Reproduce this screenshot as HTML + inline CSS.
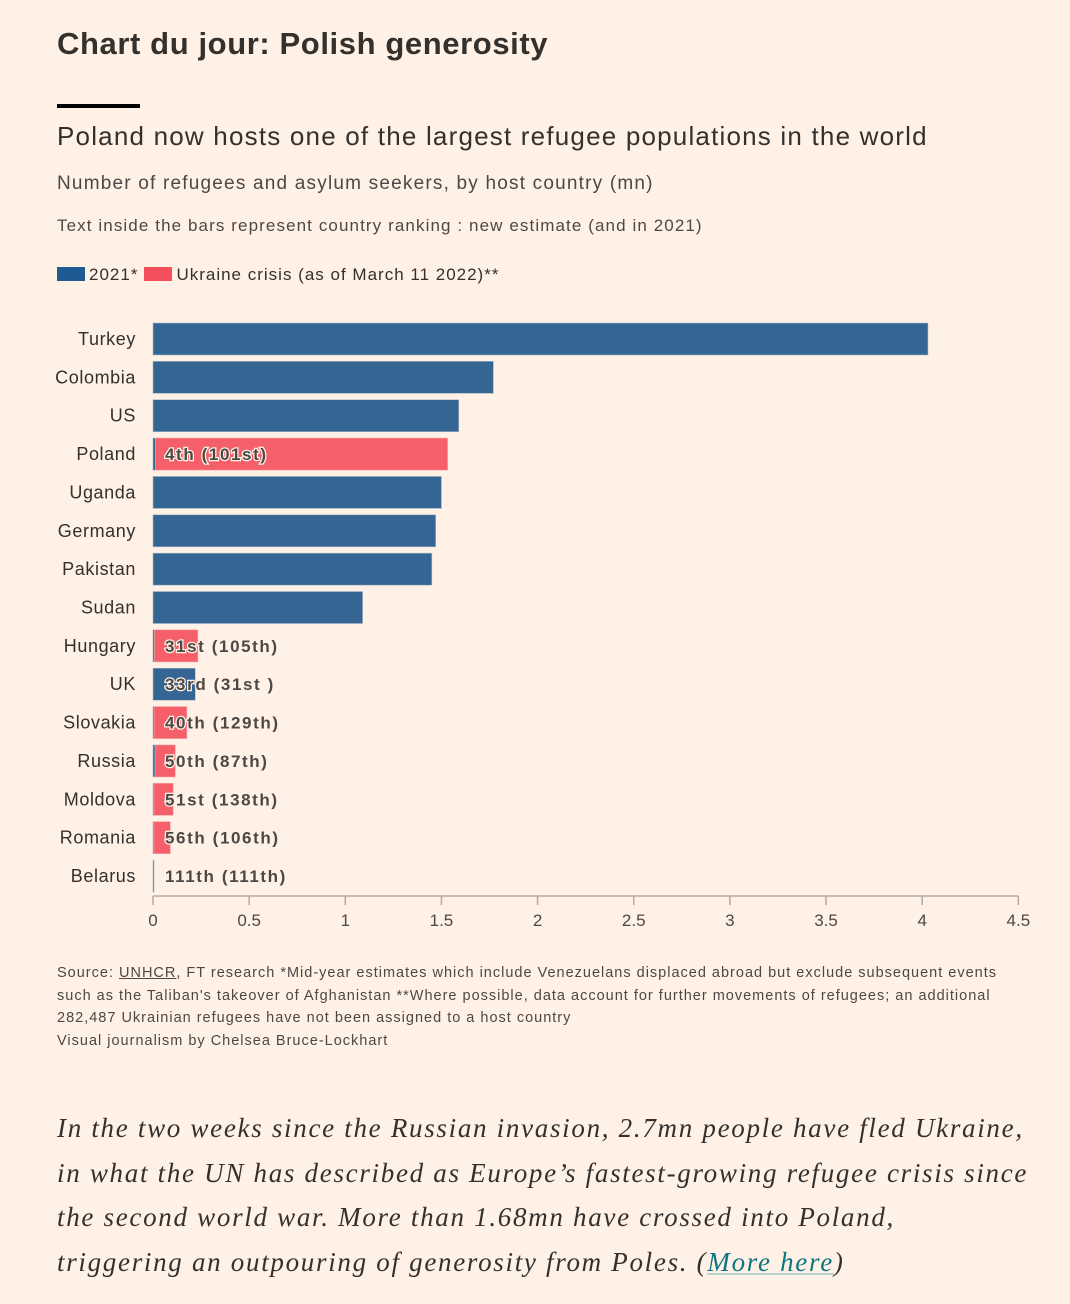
<!DOCTYPE html>
<html><head><meta charset="utf-8">
<style>
body{margin:0;background:#fff1e5;width:1070px;height:1304px;position:relative;overflow:hidden;font-family:"Liberation Sans",sans-serif;color:#33302e}
.t{position:absolute;white-space:nowrap}
</style></head><body>
<div class="t" style="left:57px;top:26px;font-size:31px;font-weight:bold;color:#33302e;letter-spacing:0.6px">Chart du jour: Polish generosity</div>
<div style="position:absolute;left:57px;top:104px;width:83px;height:4px;background:#000"></div>
<div class="t" style="left:57px;top:121px;font-size:26px;letter-spacing:1.2px">Poland now hosts one of the largest refugee populations in the world</div>
<div class="t" style="left:57px;top:173px;font-size:19px;color:#4d4845;letter-spacing:1.2px">Number of refugees and asylum seekers, by host country (mn)</div>
<div class="t" style="left:57px;top:216px;font-size:17px;color:#4d4845;letter-spacing:1.1px">Text inside the bars represent country ranking : new estimate (and in 2021)</div>
<div class="t" style="left:57px;top:265px;font-size:17px;color:#33302e;letter-spacing:1px">
<span style="display:inline-block;width:28px;height:14px;background:#1f5a93;vertical-align:-1px;margin-right:4px"></span><span>2021*</span><span style="display:inline-block;width:28px;height:14px;background:#f34f5d;vertical-align:-1px;margin:0 4px 0 6px"></span><span>Ukraine crisis (as of March 11 2022)**</span></div>

<svg id="chart" style="position:absolute;left:0;top:0" width="1070" height="950" xmlns="http://www.w3.org/2000/svg"></svg>

<div class="t" style="left:57px;top:962px;font-size:14.5px;line-height:22.5px;color:#4d4845;letter-spacing:1px">Source: <u>UNHCR</u>, FT research *Mid-year estimates which include Venezuelans displaced abroad but exclude subsequent events<br>such as the Taliban's takeover of Afghanistan **Where possible, data account for further movements of refugees; an additional<br>282,487 Ukrainian refugees have not been assigned to a host country<br>Visual journalism by Chelsea Bruce-Lockhart</div>

<div class="t" style="left:57px;top:1106px;font-family:'Liberation Serif',serif;font-style:italic;font-size:27px;line-height:44.6px;color:#33302e;letter-spacing:1.7px">In the two weeks since the Russian invasion, 2.7mn people have fled Ukraine,<br>in what the UN has described as Europe’s fastest-growing refugee crisis since<br>the second world war. More than 1.68mn have crossed into Poland,<br>triggering an outpouring of generosity from Poles. (<span style="color:#0d7680;text-decoration:underline;text-decoration-color:#b9d3d3">More here</span>)</div>

<script>
const countries=["Turkey","Colombia","US","Poland","Uganda","Germany","Pakistan","Sudan","Hungary","UK","Slovakia","Russia","Moldova","Romania","Belarus"];
const v2021=[4.03,1.77,1.59,0.012,1.50,1.47,1.45,1.09,0.008,0.22,0.006,0.011,0.005,0.005,0.003];
const vUkraine=[0,0,0,1.52,0,0,0,0,0.225,0,0.17,0.105,0.10,0.085,0];
const rankLabels=["","","","4th (101st)","","","","","31st (105th)","33rd (31st )","40th (129th)","50th (87th)","51st (138th)","56th (106th)","111th (111th)"];
const ticks=[0,0.5,1,1.5,2,2.5,3,3.5,4,4.5];
const NS="http://www.w3.org/2000/svg";
const svg=document.getElementById('chart');
const x=v=>153+v*192.3;
const yc=i=>339+i*38.36;
const bh=32;
function mk(t,a){const e=document.createElementNS(NS,t);for(const k in a)e.setAttribute(k,a[k]);svg.appendChild(e);return e;}
countries.forEach((c,i)=>{
  const lab=mk('text',{x:136,y:yc(i)+6,'text-anchor':'end','font-size':18,fill:'#33302e','letter-spacing':0.6,'font-family':'Liberation Sans, sans-serif'});
  lab.textContent=c;
  
  
  const b=mk('rect',{x:x(0),y:yc(i)-bh/2,width:Math.max(1,x(v2021[i])-x(0)),height:bh,fill:'#356593',stroke:'#a8b8c8','stroke-width':0.6});
  
  
  if(vUkraine[i]>0){
    const r=mk('rect',{x:x(v2021[i]),y:yc(i)-bh/2,width:x(v2021[i]+vUkraine[i])-x(v2021[i]),height:bh,fill:'#f45f6a',stroke:'#f7a0a5','stroke-width':0.6});
    
    
  }
  if(rankLabels[i]){
    const t=mk('text',{x:165,y:yc(i)+6,'font-size':17,'font-weight':'bold',fill:'#4d4845',stroke:'#fff1e5','stroke-width':2.5,'paint-order':'stroke','letter-spacing':1.6,'font-family':'Liberation Sans, sans-serif'});
    t.textContent=rankLabels[i];
    
    
  }
});
const ax=mk('line',{x1:x(0),x2:x(4.5),y1:896,y2:896,stroke:'#b3aaa3','stroke-width':1.5});


ticks.forEach(t=>{
  const tk=mk('line',{x1:x(t),x2:x(t),y1:896,y2:905,stroke:'#b3aaa3','stroke-width':1.5});
  
  
  const tl=mk('text',{x:x(t),y:926,'text-anchor':'middle','font-size':17,fill:'#4d4845','font-family':'Liberation Sans, sans-serif'});
  tl.textContent=String(t);
  
  
});
</script>
</body></html>
